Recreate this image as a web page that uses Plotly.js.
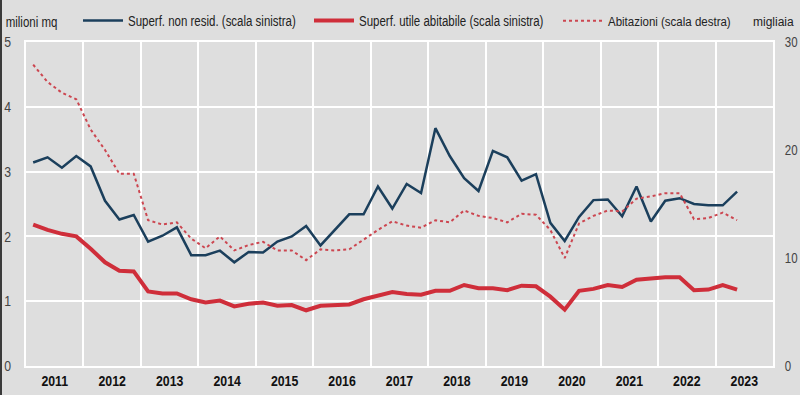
<!DOCTYPE html>
<html>
<head>
<meta charset="utf-8">
<script src="https://cdn.plot.ly/plotly-3.0.1.min.js"></script>
<style>
  html, body { margin: 0; padding: 0; background: #dedede; }
  #wrap { position: relative; width: 800px; height: 395px; }
  #chart { width: 800px; height: 395px; }
  #edge { position: absolute; left: 0; top: 0; width: 2px; height: 395px; background: #3a3a3a; }
</style>
</head>
<body>
<div id="wrap"><div id="chart"></div><div id="edge"></div></div>
<script>
// Quarterly data 2011Q1 - 2023Q2
const years = [2011, 2012, 2013, 2014, 2015, 2016, 2017, 2018, 2019, 2020, 2021, 2022, 2023];
const quarters = ["T1", "T2", "T3", "T4"];
const nonResid = [
  3.14, 3.22, 3.06, 3.24,
  3.08, 2.55, 2.26, 2.33,
  1.92, 2.01, 2.14, 1.71,
  1.71, 1.78, 1.60, 1.76,
  1.75, 1.92, 2.00, 2.16,
  1.86, 2.10, 2.34, 2.34,
  2.77, 2.43, 2.81, 2.67,
  3.67, 3.24, 2.90, 2.70,
  3.32, 3.22, 2.86, 2.96,
  2.21, 1.93, 2.30, 2.56,
  2.57, 2.31, 2.77, 2.23,
  2.55, 2.59, 2.50, 2.48,
  2.48, 2.69
];
const utileAbitabile = [
  2.18, 2.10, 2.04, 2.00,
  1.81, 1.60, 1.47, 1.46,
  1.15, 1.12, 1.12, 1.03,
  0.98, 1.01, 0.92, 0.96,
  0.98, 0.93, 0.94, 0.86,
  0.93, 0.94, 0.95, 1.03,
  1.09, 1.14, 1.11, 1.10,
  1.16, 1.16, 1.25, 1.20,
  1.20, 1.17, 1.24, 1.23,
  1.07, 0.87, 1.16, 1.19,
  1.25, 1.22, 1.33, 1.35,
  1.37, 1.37, 1.17, 1.18,
  1.25, 1.18
];
const abitazioni = [
  27.9, 26.3, 25.3, 24.7,
  21.9, 20.0, 17.8, 17.8,
  13.5, 13.1, 13.3, 11.8,
  10.9, 12.0, 10.7, 11.2,
  11.5, 10.7, 10.7, 9.8,
  10.8, 10.7, 10.8, 11.7,
  12.6, 13.4, 13.0, 12.8,
  13.5, 13.3, 14.4, 13.9,
  13.7, 13.3, 14.1, 14.0,
  12.6, 10.0, 13.2, 13.9,
  14.4, 14.3, 15.5, 15.7,
  16.0, 16.0, 13.6, 13.7,
  14.2, 13.5
];
const seriesNames = [
  "Superf. non resid. (scala sinistra)",
  "Superf. utile abitabile (scala sinistra)",
  "Abitazioni (scala destra)"
];
const leftUnit = "milioni mq";
const rightUnit = "migliaia";

// quarter positions on a continuous year axis (centre of each quarter)
const xq = [];
years.forEach(y => quarters.forEach((q, i) => xq.push(y + (i + 0.5) / 4)));
const x = xq.slice(0, nonResid.length);

const FONT = "Liberation Sans, Arial, sans-serif";
const BG = "#dedede";
const SQUEEZE = 0.82;   // the reference uses a narrow typeface

const traces = [
  { x: x, y: nonResid, name: seriesNames[0], type: "scatter", mode: "lines",
    line: { color: "#1b3f5c", width: 2.5 }, legend: "legend" },
  { x: x, y: utileAbitabile, name: seriesNames[1], type: "scatter", mode: "lines",
    line: { color: "#cf2e3a", width: 4 }, legend: "legend2" },
  { x: x, y: abitazioni, name: seriesNames[2], type: "scatter", mode: "lines",
    yaxis: "y2", line: { color: "#cc4650", width: 2, dash: "dot" }, legend: "legend3" }
];

// plot box: x 26..773, y 42..366 (pixels); margin top 0 and a reduced y domain
// keep the legends inside the paper so they do not push the margins
const L = 26, R = 27, T = 0, B = 29, TOP = 42;
const PW = 800 - L - R, PH = 395 - T - B;
function px2x(p) { return (p - L) / PW; }
function py2y(p) { return (395 - B - p) / PH; }
const yDomain = [0, py2y(TOP)];

function mkLegend(xpix, size) {
  return {
    orientation: "h", x: px2x(xpix), xanchor: "left", y: py2y(21), yanchor: "middle",
    bgcolor: "rgba(0,0,0,0)", borderwidth: 0, itemwidth: 40,
    font: { family: FONT, size: size, color: "#222" }, itemclick: false
  };
}

const layout = {
  width: 800, height: 395,
  margin: { l: L, r: R, t: T, b: B, pad: 0 },
  paper_bgcolor: BG, plot_bgcolor: BG,
  font: { family: FONT, size: 14, color: "#444" },
  showlegend: true,
  legend: mkLegend(78, 14),
  legend2: mkLegend(309, 14),
  legend3: mkLegend(558, 12.5),
  xaxis: {
    range: [2011, 2024],
    tickmode: "array",
    tickvals: years.map(y => y + 0.5),
    ticktext: years.map(String),
    tickfont: { family: FONT, size: 15, color: "#111", weight: "bold" },
    showgrid: false, zeroline: false,
    ticks: "outside", ticklen: 0, tickcolor: "rgba(0,0,0,0)",
    minor: { tickmode: "linear", tick0: 2011, dtick: 1, showgrid: true, gridcolor: "#ffffff", gridwidth: 2, ticks: "" },
    showline: true, linecolor: "#ffffff", linewidth: 2, mirror: true
  },
  yaxis: {
    domain: yDomain,
    range: [0, 5], tickmode: "linear", tick0: 0, dtick: 1,
    showgrid: true, gridcolor: "#ffffff", gridwidth: 2, zeroline: false,
    tickfont: { family: FONT, size: 15, color: "#444" },
    ticks: "outside", ticklen: 10, tickcolor: "rgba(0,0,0,0)",
    showline: true, linecolor: "#ffffff", linewidth: 2, mirror: true
  },
  yaxis2: {
    range: [0, 30], tickmode: "linear", tick0: 0, dtick: 10,
    overlaying: "y", side: "right", showgrid: false, zeroline: false,
    tickfont: { family: FONT, size: 14, color: "#444" },
    ticks: "outside", ticklen: 8, tickcolor: "rgba(0,0,0,0)"
  },
  annotations: [
    { text: leftUnit, xref: "paper", yref: "paper", x: px2x(-2), y: py2y(22),
      xanchor: "left", yanchor: "middle", showarrow: false,
      font: { family: FONT, size: 14, color: "#222" } },
    { text: rightUnit, xref: "paper", yref: "paper", x: px2x(796), y: py2y(22),
      xanchor: "right", yanchor: "middle", showarrow: false,
      font: { family: FONT, size: 12, color: "#222" } }
  ]
};

Plotly.newPlot("chart", traces, layout, { displayModeBar: false, staticPlot: true }).then(gd => {
  // emulate the narrow typeface of the original by condensing each text horizontally
  gd.querySelectorAll("svg text").forEach(el => {
    const t = el.textContent.trim();
    if (!t || t === rightUnit) return;
    const f = (t === seriesNames[2]) ? 0.92 : SQUEEZE;
    const w = el.getComputedTextLength();
    if (w > 0) {
      el.setAttribute("textLength", (w * f).toFixed(1));
      el.setAttribute("lengthAdjust", "spacingAndGlyphs");
    }
  });
});
</script>
</body>
</html>
